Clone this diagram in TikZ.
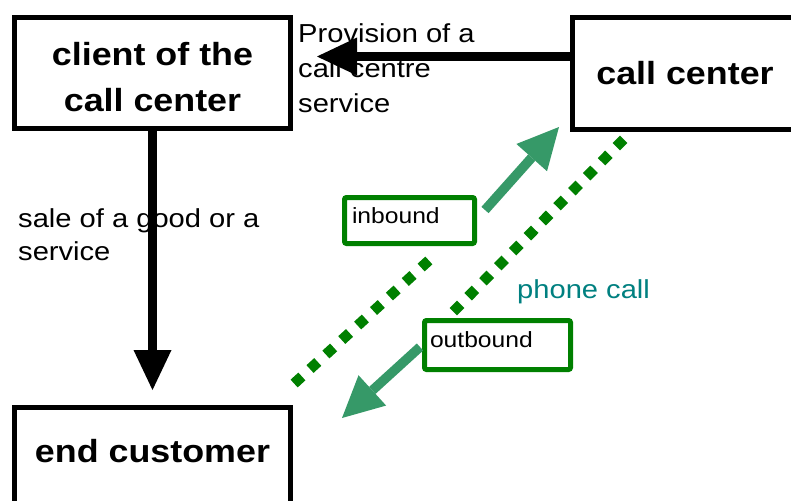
\documentclass[tikz,border=0pt]{standalone}
\usepackage{fontspec}
\setmainfont{Liberation Sans}[FakeStretch=1.12]
\usetikzlibrary{arrows.meta}
\definecolor{boxgreen}{RGB}{0,128,0}
\definecolor{arrowgreen}{RGB}{54,153,104}
\definecolor{callteal}{RGB}{0,128,128}
\begin{document}
\begin{tikzpicture}[x=1pt,y=-1pt,
  bigbox/.style={draw=black,line width=5pt,fill=white,inner sep=0pt,
    font=\fontsize{32}{46}\selectfont\bfseries,align=center},
  lbl/.style={inner sep=0pt,anchor=base west,align=left,
    font=\fontsize{26}{34.5}\selectfont},
  tagbox/.style={draw=boxgreen,line width=5pt,fill=white,rounded corners=2pt,
    inner sep=0pt,align=left,font=\fontsize{22}{26}\selectfont,text height=16pt},
  blackarrow/.style={draw=black,line width=9pt,
    -{Triangle[length=40pt,width=38pt,line width=0pt]}},
  greenarrow/.style={draw=arrowgreen,line width=9.5pt,
    -{Triangle[length=41pt,width=41pt,line width=0pt]}},
  dotline/.style={draw=boxgreen,line width=10.5pt}
]
\useasboundingbox (0,0) rectangle (791,500);

% dotted phone-call lines
\coordinate (d1a) at (294.13,383.54);
\coordinate (d1b) at (428.87,260.46);
\coordinate (d2a) at (623.69,139.27);
\coordinate (d2b) at (453.31,311.73);
\draw[dotline,dash pattern=on 10.5pt off 11pt] (d1a) -- (d1b);
\draw[dotline,dash pattern=on 10.5pt off 10.59pt] (d2a) -- (d2b);

% main boxes
\node[bigbox,minimum width=276pt,minimum height=110.5pt] (client) at (152.5,72.75) {\rule{0pt}{31.5pt}client of the\\call center};
\node[bigbox,minimum width=225pt,minimum height=111.5pt] (cc) at (685,73.25) {call center};
\node[bigbox,minimum width=276pt,minimum height=107.5pt,text height=23pt,text depth=21.5pt] (endc) at (152.5,461.25) {end customer};

% tag boxes
\node[tagbox,minimum width=130pt,minimum height=46pt,text width=115pt,text depth=11pt] (inb) at (409.5,220.5) {inbound};
\node[tagbox,minimum width=146pt,minimum height=49pt,text width=135pt,text depth=12pt] (outb) at (497.5,345) {outbound};

% labels (base anchor = baseline of the last line)
\node[lbl] (prov) at (298,112) {Provision of a\\call centre\\service};
\node[lbl,font=\fontsize{26}{33}\selectfont] (sale) at (18,260) {sale of a good or a\\service};
\node[lbl,text=callteal] (phone) at (517,298) {phone call};

% black arrows
\coordinate (provtip) at (317,56.5);
\draw[blackarrow] (cc.west |- provtip) -- (provtip);
\coordinate (saletip) at (152.5,390);
\draw[blackarrow] (client.south) -- (saletip);

% green arrows
\coordinate (inS) at (485,210);
\coordinate (inT) at (559,127);
\draw[greenarrow] (inS) -- (inT);
\coordinate (outS) at (420,347);
\coordinate (outT) at (342,418);
\draw[greenarrow] (outS) -- (outT);
\end{tikzpicture}
\end{document}
